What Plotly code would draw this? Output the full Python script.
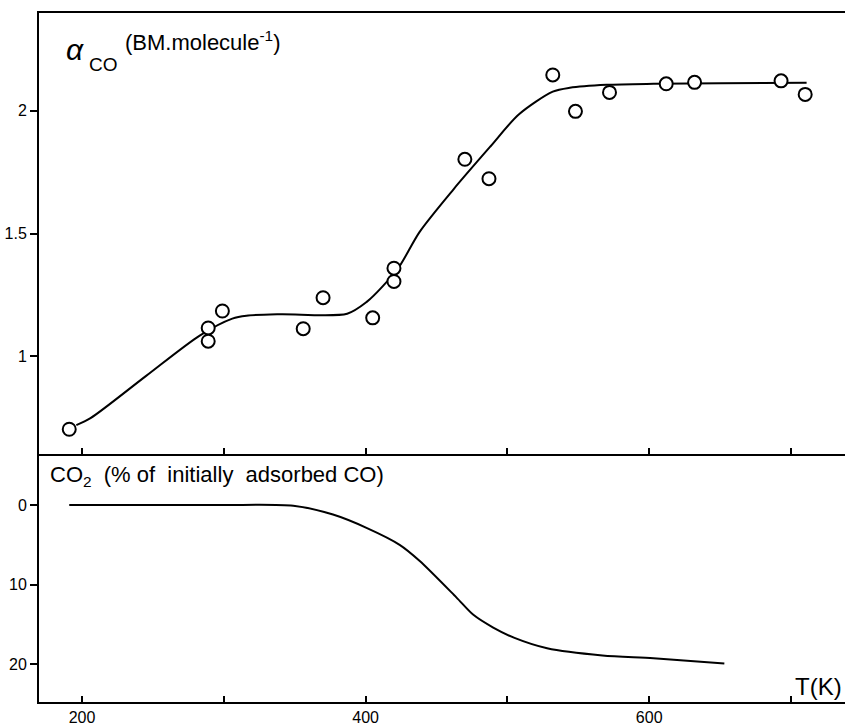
import plotly.graph_objects as go

# ---- data ----
T_points = [191, 289, 289, 299, 356, 370, 405, 420, 420, 470, 487, 532, 548, 572, 612, 632, 693, 710]
alpha_points = [0.704, 1.116, 1.062, 1.185, 1.113, 1.239, 1.157, 1.359, 1.305, 1.802, 1.723,
                2.145, 1.997, 2.074, 2.109, 2.115, 2.121, 2.066]

T_fit = [196, 206, 245, 283, 306, 316, 340, 387, 401, 412, 424, 438, 462, 488, 508, 532, 544, 570, 603, 650, 711]
alpha_fit = [0.721, 0.749, 0.92, 1.085, 1.154, 1.166, 1.172, 1.174, 1.223, 1.285, 1.368, 1.506, 1.680,
             1.854, 1.984, 2.077, 2.093, 2.105, 2.109, 2.111, 2.113]

T_co2 = [191, 250, 300, 349, 377, 401, 424, 438, 464, 476, 490, 505, 528, 567, 603, 653]
co2_pct = [0.0, 0.0, 0.0, 0.1, 1.2, 2.9, 5.0, 7.0, 11.6, 13.8, 15.4, 16.7, 18.0, 18.9, 19.25, 19.9]

x_ticks = [200, 300, 400, 500, 600, 700]
x_ticktext = ["200", "", "400", "", "600", ""]
alpha_ticks = [1, 1.5, 2]
alpha_ticktext = ["1", "1.5", "2"]
co2_ticks = [0, 10, 20]
co2_ticktext = ["0", "10", "20"]

FONT = "Liberation Sans"
W, H = 845, 726
L, R, T, B = 39, 0, 13, 21
split = (705 - 456) / (705 - 13)

fig = go.Figure()

fig.add_trace(go.Scatter(x=T_fit, y=alpha_fit, mode="lines", line=dict(color="black", width=2, shape="spline", smoothing=0.8),
                         xaxis="x2", yaxis="y2", showlegend=False, hoverinfo="skip"))
fig.add_trace(go.Scatter(x=T_points, y=alpha_points, mode="markers",
                         marker=dict(symbol="circle", size=13, color="white", line=dict(color="black", width=2)),
                         xaxis="x2", yaxis="y2", showlegend=False))
fig.add_trace(go.Scatter(x=T_co2, y=co2_pct, mode="lines", line=dict(color="black", width=2, shape="spline", smoothing=0.8),
                         xaxis="x", yaxis="y", showlegend=False))

xr = [200 + (39 - 82) / 1.418, 200 + (845 - 82) / 1.418]

axis_common = dict(showgrid=False, zeroline=False, linecolor="black", linewidth=2,
                   tickcolor="black", tickwidth=2, tickfont=dict(family=FONT, size=16, color="black"))

fig.update_layout(
    width=W, height=H,
    margin=dict(l=L, r=R, t=T, b=B),
    paper_bgcolor="white", plot_bgcolor="white",
    xaxis=dict(range=xr, domain=[0, 1], anchor="y", showline=True, ticks="inside", ticklen=6,
               tickvals=x_ticks, ticktext=x_ticktext, **axis_common),
    yaxis=dict(range=[24.75, -6.4], domain=[0, split], anchor="x", showline=True, ticks="outside", ticklen=7,
               tickvals=co2_ticks, ticktext=co2_ticktext, **axis_common),
    xaxis2=dict(range=xr, domain=[0, 1], anchor="y2", matches="x", showline=True, mirror=True, ticks="inside", ticklen=6,
                tickvals=x_ticks, showticklabels=False, **axis_common),
    yaxis2=dict(range=[0.603, 2.397], domain=[split, 1], anchor="x2", showline=True, ticks="outside", ticklen=7,
                tickvals=alpha_ticks, ticktext=alpha_ticktext, **axis_common),
)

def px(x):
    return (x - L) / (W - L - R)

def py(y):
    return (H - B - y) / (H - T - B)

ann = [
    dict(text="<i>α</i>", x=px(64), y=py(50), xanchor="left", yanchor="middle", font=dict(size=30)),
    dict(text="CO", x=px(87), y=py(65), xanchor="left", yanchor="middle", font=dict(size=19)),
    dict(text="(BM.molecule<sup>-1</sup>)", x=px(123), y=py(41), xanchor="left", yanchor="middle", font=dict(size=22)),
    dict(text="CO<sub>2</sub>  (% of  initially  adsorbed CO)", x=px(48), y=py(478), xanchor="left", yanchor="middle", font=dict(size=22)),
    dict(text="T(K)", x=px(793), y=py(689), xanchor="left", yanchor="middle", font=dict(size=24)),
]
for a in ann:
    a.update(xref="paper", yref="paper", showarrow=False)
    a["font"].update(family=FONT, color="black")
    fig.add_annotation(**a)

fig.write_html("out.html")
